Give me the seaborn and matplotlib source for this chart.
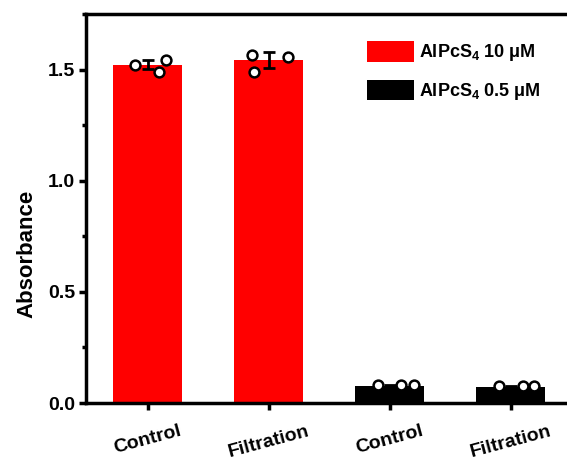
import numpy as np
import pandas as pd
import matplotlib.pyplot as plt
import seaborn as sns
from matplotlib.ticker import MultipleLocator

# -----------------------------
# data
# -----------------------------
slots = ['c10', 'f10', 'c05', 'f05']
categories = ['Control', 'Filtration', 'Control', 'Filtration']
groups = ['AlPcS$_4$ 10 μM', 'AlPcS$_4$ 10 μM', 'AlPcS$_4$ 0.5 μM', 'AlPcS$_4$ 0.5 μM']
means = [1.522, 1.543, 0.075, 0.073]
sds = [0.02, 0.035, 0.004, 0.003]
replicates = [[1.520, 1.490, 1.545],
              [1.567, 1.491, 1.558],
              [0.080, 0.081, 0.079],
              [0.077, 0.077, 0.077]]

# horizontal spread of the replicate dots (bar units)
dot_offsets = [[-0.107, 0.09, 0.15],
               [-0.14, -0.12, 0.157],
               [-0.095, 0.095, 0.2],
               [-0.1, 0.1, 0.19]]

palette = {'AlPcS$_4$ 10 μM': '#FF0000', 'AlPcS$_4$ 0.5 μM': '#000000'}

# -----------------------------
# style
# -----------------------------
sns.set_style('ticks')
plt.rcParams['font.family'] = ['Liberation Sans', 'DejaVu Sans']
plt.rcParams['font.weight'] = 'bold'
plt.rcParams['mathtext.fontset'] = 'custom'
plt.rcParams['mathtext.rm'] = 'Liberation Sans:bold'
plt.rcParams['mathtext.default'] = 'rm'
for key in ['text.color', 'axes.labelcolor', 'xtick.color', 'ytick.color', 'axes.edgecolor']:
    plt.rcParams[key] = 'black'

df = pd.DataFrame({'slot': slots, 'mean': means, 'group': groups})
dots = pd.DataFrame({
    'x': [i + o for i, offs in enumerate(dot_offsets) for o in offs],
    'y': [v for reps in replicates for v in reps],
})

fig = plt.figure(figsize=(5.67, 4.59), dpi=100)
ax_w = 0.86
ax = fig.add_axes([0.1517, 0.122, ax_w, 0.8475])

sns.barplot(data=df, x='slot', y='mean', hue='group', palette=palette,
            dodge=False, width=0.57, saturation=1, errorbar=None,
            order=slots, ax=ax, linewidth=0)
ax.errorbar(range(len(means)), means, yerr=sds, fmt='none', ecolor='black',
            elinewidth=2, capsize=4, capthick=2, zorder=3)
sns.scatterplot(data=dots, x='x', y='y', s=50, color='white',
                edgecolor='black', linewidth=1.8, zorder=4, legend=False, ax=ax)

# axes
ax.set_xlim(-0.512, -0.512 + ax_w * 567 / 121)
ax.set_ylim(0, 1.75)
ax.set_xticks(range(len(categories)))
ax.set_xticklabels(categories, rotation=15, ha='center', fontsize=14, fontweight='bold')
ax.yaxis.set_major_locator(MultipleLocator(0.5))
ax.yaxis.set_minor_locator(MultipleLocator(0.25))
ax.set_yticklabels([f'{t:.1f}' for t in ax.get_yticks()], fontsize=14, fontweight='bold')
ax.set_xlabel('')
ax.set_ylabel('Absorbance', fontsize=16, fontweight='bold')
ax.yaxis.set_label_coords(-0.10, 0.383)

ax.spines['right'].set_visible(False)
for s in ['left', 'bottom', 'top']:
    ax.spines[s].set_linewidth(2.5)
ax.tick_params(axis='both', which='major', direction='out', length=5, width=2.5)
ax.tick_params(axis='y', which='minor', direction='out', length=3, width=2.5)
ax.tick_params(axis='x', pad=9)
ax.tick_params(axis='y', pad=3)

handles, labels = ax.get_legend_handles_labels()
ax.legend(handles, labels, loc='upper left', bbox_to_anchor=(0.647, 0.911),
          bbox_transform=fig.transFigure, frameon=False,
          handlelength=2.6, handleheight=1.4, handletextpad=0.3,
          labelspacing=0.9, borderpad=0, borderaxespad=0,
          prop={'weight': 'bold', 'size': 13})

fig.savefig('out.png', dpi=100)
